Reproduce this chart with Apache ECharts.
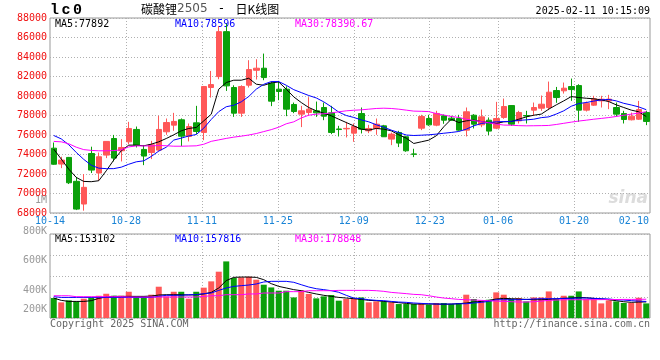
<!DOCTYPE html>
<html><head><meta charset="utf-8">
<script src="https://cdn.jsdelivr.net/npm/echarts@6/dist/echarts.min.js"></script>
<style>html,body{margin:0;padding:0;background:#fff}#c{width:660px;height:360px}</style>
</head><body><div id="c"></div>
<script>
const dates = ['10-14','10-15','10-16','10-17','10-18','10-21','10-22','10-23','10-24','10-25',
'10-28','10-29','10-30','10-31','11-01','11-04','11-05','11-06','11-07','11-08',
'11-11','11-12','11-13','11-14','11-15','11-18','11-19','11-20','11-21','11-22',
'11-25','11-26','11-27','11-28','11-29','12-02','12-03','12-04','12-05','12-06',
'12-09','12-10','12-11','12-12','12-13','12-16','12-17','12-18','12-19','12-20',
'12-23','12-24','12-25','12-26','12-27','12-30','12-31','01-02','01-03','01-06',
'01-07','01-08','01-09','01-10','01-13','01-14','01-15','01-16','01-17','01-20',
'01-21','01-22','01-23','01-24','01-27','02-05','02-06','02-07','02-10','02-11'];
const labelDates = ['10-14','10-28','11-11','11-25','12-09','12-23','01-06','01-20','02-10'];
const gridDates = ['10-28','11-11','11-25','12-09','12-23','01-06','01-20'];

const open = [74650,73020,73700,71250,68920,74100,72100,73940,75640,74380,
75300,76570,74520,74210,74450,76330,77010,77560,75850,77250,
76260,80870,81990,86600,80870,78240,81110,82640,82850,81310,
80700,80700,79130,78140,78310,78480,78820,78270,76620,76630,
76190,78200,76430,76670,76940,75580,76260,75820,74060,76700,
77690,77010,77970,77730,77690,76500,78030,77040,77520,76700,
77800,79020,77450,78000,78550,78750,78820,80560,80530,80970,
81070,78550,79060,79500,79500,78820,78200,77560,77620,78310];
const close = [73000,73430,71100,68400,70630,72400,73770,75340,73630,74720,
76670,74960,73840,75000,76570,77280,77390,75880,76870,76360,
80970,81170,86600,81040,78240,80970,82710,82850,81890,79470,
80460,78650,78410,78480,78650,78270,77930,76260,76560,76680,
76870,76600,76670,77110,75820,76090,75170,74380,74020,77900,
77040,78210,77520,77520,76500,78380,77110,77860,76400,77690,
78920,77110,78310,77950,78820,79160,80390,79840,80800,80660,
78550,79260,79710,79670,79680,78140,77590,77930,78610,77390];
const low = [72950,72600,70970,68300,68240,72100,71300,73630,73290,73290,
75060,74720,72910,73530,74300,76020,76430,74860,75340,76090,
75470,79840,81720,80520,77860,77860,80870,81690,81620,78960,
79570,77930,78240,76810,78000,77860,77520,76090,75850,75750,
75300,76160,76190,76020,75800,74960,74760,74280,73730,76500,
76940,76900,77150,77450,76430,75850,76670,76800,75990,76600,
77660,76940,77180,77180,77970,78480,78550,79300,80250,79500,
77350,78410,78990,78820,78650,77900,77180,77500,77550,77010];
const high = [75230,73770,73750,71700,72000,74800,74200,75340,76010,75580,
77350,76870,74960,75400,77970,77690,78270,77700,77180,78990,
81030,82570,87180,87420,81100,81100,83670,83770,84350,81500,
81550,81000,79330,78990,79880,79430,79330,78990,76940,77350,
77180,78820,77040,77690,77040,76250,76430,75920,74590,78070,
78070,78480,78100,77970,78070,78820,78140,78610,77800,79400,
79740,79030,78480,78480,79330,80050,81480,80930,81380,81790,
81210,79430,80020,80020,80120,79330,78480,78300,79500,78480];

const ma5 = [74550,73530,72500,71650,71240,71210,71310,72330,73430,74380,
74960,74960,74890,75060,75300,75640,76020,76430,76670,76770,
77450,78130,80700,81380,81620,81620,81820,81210,81100,81340,
81440,80700,79910,79330,78820,78480,78240,77970,77620,77280,
76940,76600,76500,76670,76600,76430,76020,75680,75130,75300,
75470,75920,76840,77620,77280,77450,77520,77380,77280,77180,
77350,77380,77620,77860,78030,78140,78650,79090,79500,79940,
79840,79770,79710,79600,79430,79090,78820,78550,78380,77892];
const ma10 = [75950,75600,75000,74210,73500,72900,72600,72550,72550,72700,
73000,73250,73350,73800,74350,74750,75480,75680,75900,76050,
76700,77600,78400,78900,79050,79400,79950,80700,81200,81480,
81480,81100,80650,80350,80050,79800,79400,78900,78350,78000,
77800,77550,77350,77050,76800,76500,76250,76000,75950,75980,
76020,76090,76180,76260,76360,76600,76940,77180,77280,77350,
77380,77400,77500,77550,77620,77780,77860,78150,78480,78950,
79230,79330,79480,79600,79650,79500,79250,79080,78880,78596];
const ma30 = [75340,75300,75100,74750,74500,74420,74380,74380,74400,74480,
74780,74880,74880,74880,74920,74900,74850,74850,74870,74890,
75050,75350,75500,75650,75780,75880,76000,76150,76350,76550,
76800,77150,77350,77750,78030,78140,78180,78260,78380,78480,
78540,78580,78650,78720,78750,78720,78650,78550,78450,78430,
78400,78200,78050,77900,77800,77620,77480,77380,77250,77120,
77020,77000,76960,76940,76950,76960,76980,77080,77200,77320,
77430,77520,77620,77700,77790,77900,78020,78140,78250,78390.67];

// volume in thousands of lots
const volume = [190,149,168,158,184,196,212,231,212,212,
250,206,206,222,298,206,250,250,184,250,
289,349,441,539,381,387,393,365,317,291,
260,260,196,263,229,187,206,219,165,181,
184,196,149,158,158,149,133,133,133,143,
127,143,143,133,143,222,181,168,174,244,
222,181,190,158,196,196,253,184,212,212,
253,181,190,139,168,158,143,143,193,139];
const volMa5 = [190,168,158,158,158,165,187,200,206,206,
206,206,206,209,219,222,222,222,219,222,
229,244,286,356,387,390,390,387,365,327,
301,286,270,260,244,229,216,206,196,190,
184,177,168,165,158,152,146,139,133,133,
133,133,130,133,136,143,152,158,168,181,
187,184,181,177,174,174,177,181,187,190,
196,193,187,181,174,165,155,149,152,153.102];
const volMa10 = [203,196,196,196,196,196,196,196,196,196,
196,196,196,196,206,216,216,216,222,222,
232,238,263,286,301,308,314,324,343,349,
349,349,340,317,295,279,270,260,245,216,
190,184,174,168,165,158,152,149,143,139,
136,133,133,133,136,136,143,149,158,174,
174,174,174,177,181,184,184,184,187,187,
190,190,187,184,181,174,171,165,161,157.816];
const volMa30 = [212,212,212,203,203,203,203,203,203,203,
200,200,200,200,200,200,200,200,200,200,
206,212,212,222,222,222,229,229,238,238,
238,251,251,251,260,260,260,260,263,263,
263,263,263,260,254,244,238,232,225,222,
212,200,190,184,177,174,171,168,165,161,
158,155,152,152,155,161,168,171,174,174,
174,174,175,175,176,176,177,177,178,178.848];

const RED = '#ff5858', GREEN = '#0aa00a';
const MONO = 'DejaVu Sans Mono';
const GRIDC = '#b0b0b0';

const chart = echarts.init(document.getElementById('c'), null, {renderer:'canvas'});
const last = a => a[a.length-1];
const dotted = {show:true, lineStyle:{type:[1,2], color:GRIDC, width:1}};

const option = {
  animation:false,
  backgroundColor:'#fff',
  grid:[
    {left:50, top:18, width:600, height:195, show:true, borderColor:'#999', borderWidth:1},
    {left:50, top:234, width:600, height:84, show:true, borderColor:'#999', borderWidth:1},
    {left:50, top:231, width:600, height:89.4, show:false}
  ],
  xAxis:[
    {type:'category', gridIndex:0, position:'top', data:dates, boundaryGap:true, show:false},
    {type:'category', gridIndex:0, position:'bottom', data:dates, boundaryGap:false,
      axisLine:{show:false}, axisTick:{show:false},
      axisLabel:{interval:(i,v)=>labelDates.includes(v), color:'#1a84d6', fontFamily:MONO, fontSize:10, margin:3,
        formatter:(v,i)=> i>70 ? '{r|'+v+'}' : v, rich:{r:{padding:[0,17,0,0]}}},
      splitLine:Object.assign({interval:(i,v)=>gridDates.includes(v)}, dotted)},
    {type:'category', gridIndex:1, position:'top', data:dates, boundaryGap:true, show:false},
    {type:'category', gridIndex:1, position:'bottom', data:dates, boundaryGap:false,
      axisLine:{show:false}, axisTick:{show:false}, axisLabel:{show:false},
      splitLine:Object.assign({interval:(i,v)=>gridDates.includes(v)}, dotted)},
    {type:'category', gridIndex:2, data:dates, show:false}
  ],
  yAxis:[
    {type:'value', gridIndex:0, min:68000, max:88000, interval:2000,
      axisLine:{show:false}, axisTick:{show:false},
      axisLabel:{color:'#f01010', fontFamily:MONO, fontSize:10, margin:3, padding:[0,0,3,0], formatter:v=>String(v)},
      splitLine:dotted},
    {type:'value', gridIndex:1, min:0, max:800, interval:200,
      axisLine:{show:false}, axisTick:{show:false}, axisLabel:{show:false}, splitLine:dotted},
    {type:'value', gridIndex:2, min:200, max:800, interval:200,
      axisLine:{show:false}, axisTick:{show:false}, splitLine:{show:false},
      axisLabel:{color:'#999', fontFamily:MONO, fontSize:10, margin:3,
        formatter:v=> v===200 ? '{b|'+v+'K}' : v+'K', rich:{b:{padding:[0,0,21,0]}}}}
  ],
  series:[
    {type:'candlestick', xAxisIndex:0, yAxisIndex:0, barWidth:6,
      data:open.map((o,i)=>[o, close[i], low[i], high[i]]),
      itemStyle:{color:RED, color0:GREEN, borderColor:RED, borderColor0:GREEN, borderWidth:1}},
    {type:'line', xAxisIndex:0, yAxisIndex:0, data:ma5, symbol:'none', lineStyle:{color:'#000', width:1}},
    {type:'line', xAxisIndex:0, yAxisIndex:0, data:ma10, symbol:'none', lineStyle:{color:'#0000ff', width:1}},
    {type:'line', xAxisIndex:0, yAxisIndex:0, data:ma30, symbol:'none', lineStyle:{color:'#ff00ff', width:1}},
    {type:'bar', xAxisIndex:2, yAxisIndex:1, barWidth:6,
      data:volume.map((v,i)=>({value:v, itemStyle:{color: close[i]>=open[i]?RED:GREEN}}))},
    {type:'line', xAxisIndex:2, yAxisIndex:1, data:volMa5, symbol:'none', lineStyle:{color:'#000', width:1}},
    {type:'line', xAxisIndex:2, yAxisIndex:1, data:volMa10, symbol:'none', lineStyle:{color:'#0000ff', width:1}},
    {type:'line', xAxisIndex:2, yAxisIndex:1, data:volMa30, symbol:'none', lineStyle:{color:'#ff00ff', width:1}}
  ],
  graphic:[
    {type:'text', left:50, top:3, style:{text:'{a|l}{a|c}{a|0}', font:'bold 15px "Liberation Mono"', fill:'#000',
      rich:{a:{width:11.5, align:'left', font:'bold 15px "Liberation Mono"'}}}},
    {type:'text', left:141, top:3, style:{text:'{a|碳酸锂}{b|2505}{c| - }{a|日K线图}', fill:'#000',
      rich:{a:{fontFamily:'Noto Sans CJK SC', fontSize:12, fill:'#000'},
            b:{fontFamily:'DejaVu Sans', fontSize:12, fill:'#555'},
            c:{fontFamily:'DejaVu Sans', fontSize:12, width:28, align:'center', fill:'#000'}}}},
    {type:'text', right:10, top:6, style:{text:'2025-02-11 10:15:09', font:'10px "DejaVu Sans Mono"', fill:'#000'}},
    {type:'text', left:55, top:19, style:{text:'MA5:'+Math.round(last(ma5)), font:'10px "DejaVu Sans Mono"', fill:'#000'}},
    {type:'text', left:175, top:19, style:{text:'MA10:'+Math.round(last(ma10)), font:'10px "DejaVu Sans Mono"', fill:'#0000ff'}},
    {type:'text', left:295, top:19, style:{text:'MA30:'+last(ma30).toFixed(2), font:'10px "DejaVu Sans Mono"', fill:'#ff00ff'}},
    {type:'text', left:55, top:234, style:{text:'MA5:'+Math.round(last(volMa5)*1000), font:'10px "DejaVu Sans Mono"', fill:'#000'}},
    {type:'text', left:175, top:234, style:{text:'MA10:'+Math.round(last(volMa10)*1000), font:'10px "DejaVu Sans Mono"', fill:'#0000ff'}},
    {type:'text', left:295, top:234, style:{text:'MA30:'+Math.round(last(volMa30)*1000), font:'10px "DejaVu Sans Mono"', fill:'#ff00ff'}},
    {type:'text', right:613, top:195, style:{text:'1M', font:'10px "DejaVu Sans Mono"', fill:'#999'}},
    {type:'text', right:12, top:190, style:{text:'sina', font:'italic bold 17px "DejaVu Sans"', fill:'#dcdcdc'}},
    {type:'text', left:50, top:319, style:{text:'Copyright 2025 SINA.COM', font:'10px "DejaVu Sans Mono"', fill:'#666'}},
    {type:'text', right:10, top:319, style:{text:'http://finance.sina.com.cn', font:'10px "DejaVu Sans Mono"', fill:'#666'}}
  ]
};
chart.setOption(option);
</script></body></html>
